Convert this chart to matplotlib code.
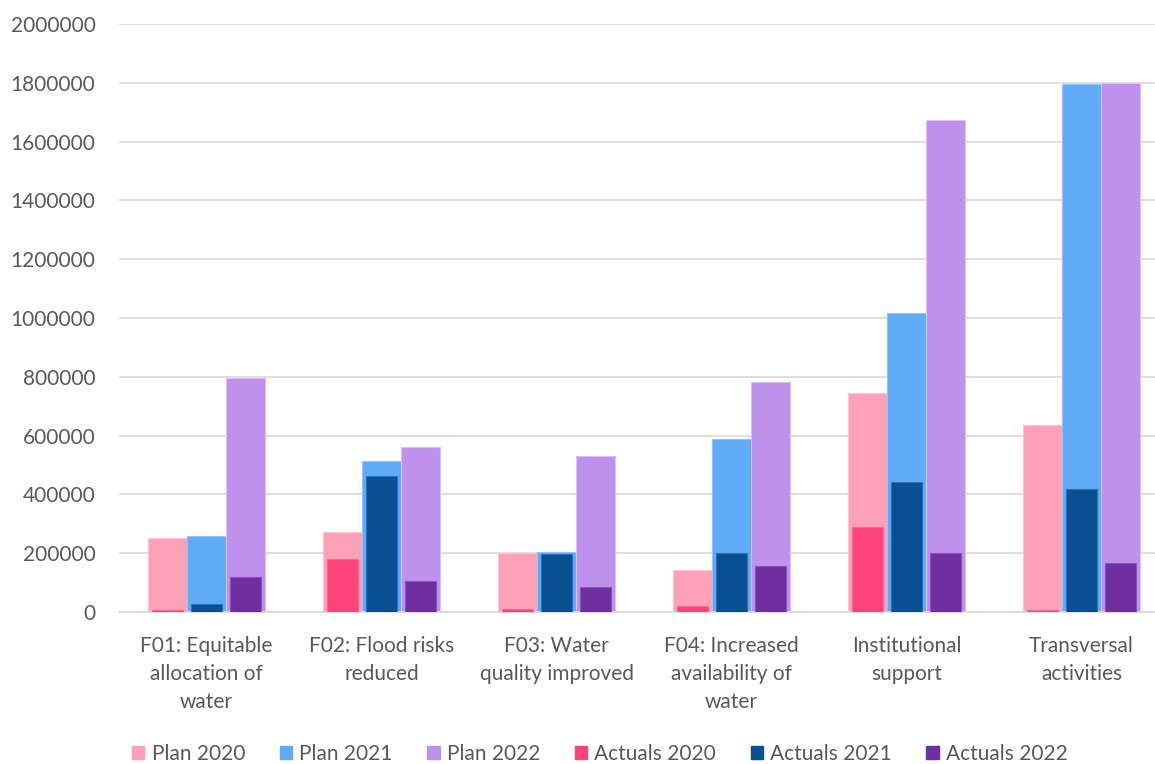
import matplotlib
matplotlib.use("Agg")
import matplotlib.pyplot as plt
import numpy as np
from matplotlib.patches import Patch

categories = ["F01: Equitable\nallocation of\nwater", "F02: Flood risks\nreduced",
              "F03: Water\nquality improved", "F04: Increased\navailability of\nwater",
              "Institutional\nsupport", "Transversal\nactivities"]
plan_2020 = [251000, 271000, 202000, 144000, 744000, 637000]
plan_2021 = [257000, 512000, 205000, 587000, 1018000, 1796000]
plan_2022 = [797000, 561000, 531000, 781000, 1675000, 1800000]
actuals_2020 = [7000, 181000, 10000, 22000, 288000, 6000]
actuals_2021 = [27000, 463000, 198000, 201000, 443000, 419000]
actuals_2022 = [119000, 106000, 86000, 156000, 201000, 165000]
yticks = [0, 200000, 400000, 600000, 800000, 1000000, 1200000, 1400000, 1600000, 1800000, 2000000]

plan_series = [("Plan 2020", plan_2020, "#FDA1B9", "#FFC4D3"),
               ("Plan 2021", plan_2021, "#60ABF5", "#8EC6FB"),
               ("Plan 2022", plan_2022, "#BE91EC", "#DCC0F7")]
act_series = [("Actuals 2020", actuals_2020, "#FF4279", "#F86A93"),
              ("Actuals 2021", actuals_2021, "#0A4F91", "#2F71B8"),
              ("Actuals 2022", actuals_2022, "#6F2FA0", "#8C4FC2")]

plt.rcParams['font.family'] = ['Lato', 'DejaVu Sans']
txt = "#595959"

fig = plt.figure(figsize=(11.55, 7.64), dpi=100)
ax = fig.add_axes([119/1155, (764-612)/764, 1 - 119/1155, (612-24)/764])

x = np.arange(len(categories))
pw = 0.221
aw = 0.177
offsets = [-pw, 0, pw]
handles = []
for (name, vals, c, ec), off in zip(plan_series, offsets):
    ax.bar(x + off, vals, width=pw, color=c, edgecolor=ec, linewidth=0.8, zorder=2)
    handles.append(Patch(color=c, label=name))
for (name, vals, c, ec), off in zip(act_series, offsets):
    ax.bar(x + off, vals, width=aw, color=c, edgecolor=ec, linewidth=0.8, zorder=3)
    handles.append(Patch(color=c, label=name))

ax.set_xlim(-0.5, -0.5 + (1155 - 119) / 175)
ax.set_ylim(0, 2000000)
ax.set_yticks(yticks)
ax.set_yticklabels([str(v) for v in yticks])
ax.set_xticks(x)
ax.set_xticklabels(categories, linespacing=1.5)
ax.tick_params(axis='y', length=0, pad=17, labelsize=15, labelcolor=txt)
ax.tick_params(axis='x', length=0, pad=17, labelsize=15, labelcolor=txt)
ax.grid(axis='y', color="#D9D9D9", linewidth=1.2, zorder=0)
ax.set_axisbelow(True)
for s in ['top', 'right', 'left']:
    ax.spines[s].set_visible(False)
ax.spines['bottom'].set_color("#D9D9D9")
ax.spines['bottom'].set_linewidth(1.2)

leg = fig.legend(handles=handles, ncol=6, loc='center', bbox_to_anchor=(600/1155, 1 - 754/764),
                 frameon=False, fontsize=15, handlelength=0.6, handleheight=0.6,
                 handletextpad=0.35, columnspacing=1.65, labelcolor=txt)

fig.savefig("out.png", dpi=100)
